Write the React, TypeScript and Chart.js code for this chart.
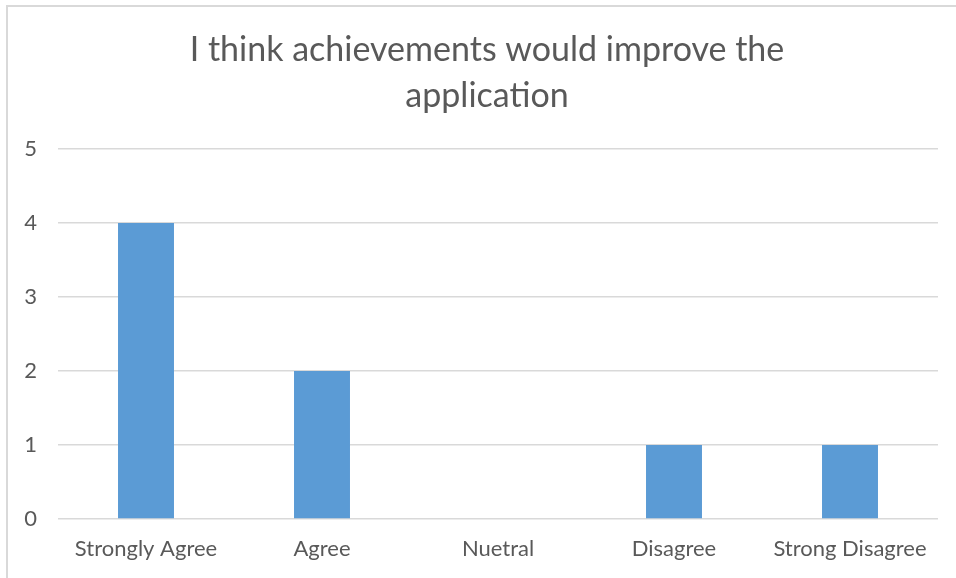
import React, { useEffect, useRef } from "react";
import { Chart, registerables } from "chart.js";

Chart.register(...registerables);

const titleLines = ["I think achievements would improve the", "application"];
const categories = ["Strongly Agree", "Agree", "Nuetral", "Disagree", "Strong Disagree"];
const values = [4, 2, 0, 1, 1];
const yTicks = [0, 1, 2, 3, 4, 5];

const FONT = "Lato, 'Open Sans', sans-serif";
const TEXT = "#595959";
const GRID = "#D9D9D9";
const BAR = "#5B9BD5";

const titleShift = {
  id: "titleShift",
  afterLayout(chart: any) {
    const t = chart.titleBlock;
    if (t) t.left += 16;
  },
};

export default function App() {
  const ref = useRef<HTMLCanvasElement | null>(null);
  useEffect(() => {
    if (!ref.current) return;
    const chart = new Chart(ref.current, {
      type: "bar",
      data: {
        labels: categories,
        datasets: [
          {
            data: values,
            backgroundColor: BAR,
            borderWidth: 0,
            categoryPercentage: 1,
            barPercentage: 0.318,
          },
        ],
      },
      plugins: [titleShift],
      options: {
        animation: false,
        responsive: false,
        maintainAspectRatio: false,
        layout: { padding: { left: 20, right: 18, top: 0, bottom: 0 } },
        plugins: {
          legend: { display: false },
          tooltip: { enabled: false },
          title: {
            display: true,
            text: titleLines,
            color: TEXT,
            font: { family: FONT, size: 34, weight: "normal", lineHeight: 46 / 34 },
            padding: { top: 27, bottom: 30 },
          },
        },
        scales: {
          x: {
            grid: { display: false, drawTicks: false },
            border: { display: false },
            ticks: {
              color: TEXT,
              font: { family: FONT, size: 22 },
              padding: 17,
              maxRotation: 0,
              autoSkip: false,
            },
            afterFit: (s: any) => {
              s.height = 59;
            },
          },
          y: {
            min: 0,
            max: 5,
            afterBuildTicks: (s: any) => {
              s.ticks = yTicks.map((v) => ({ value: v }));
            },
            grid: { color: GRID, lineWidth: 1.5, drawTicks: false },
            border: { display: false },
            ticks: {
              color: TEXT,
              font: { family: FONT, size: 22 },
              padding: 21,
            },
            afterFit: (s: any) => {
              s.width = 38;
            },
          },
        },
      },
    });
    return () => chart.destroy();
  }, []);
  return (
    <div style={{ position: "absolute", left: 0, top: 0, width: 956, height: 578, background: "#fff" }}>
      <div
        style={{
          position: "absolute",
          left: 6,
          top: 5,
          width: 960,
          height: 600,
          borderTop: "2px solid #D9D9D9",
          borderLeft: "2px solid #D9D9D9",
        }}
      />
      <canvas ref={ref} width={956} height={578} style={{ position: "absolute", left: 0, top: 0 }} />
    </div>
  );
}
